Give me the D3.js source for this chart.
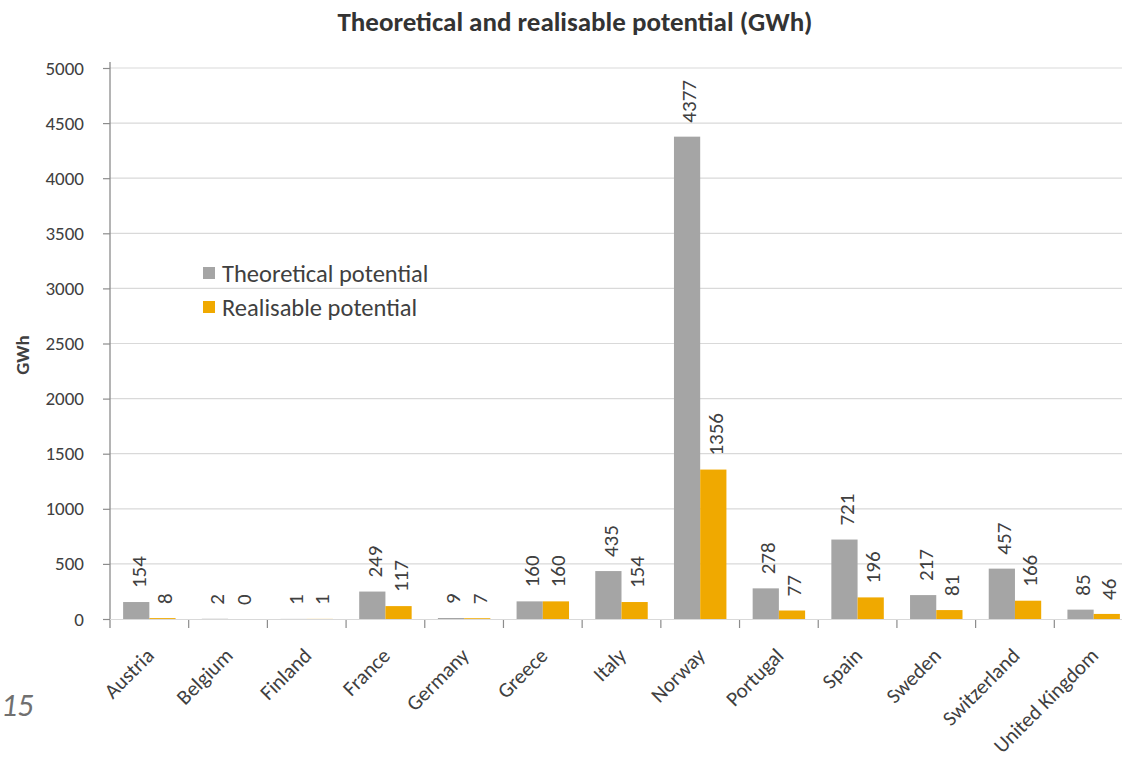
<!DOCTYPE html>
<html>
<head>
<meta charset="utf-8">
<script src="https://cdn.jsdelivr.net/npm/d3@7"></script>
<style>
  html, body { margin: 0; padding: 0; background: #fff; }
  svg { display: block; }
  text { font-family: Carlito, Lato, "Open Sans", sans-serif; }
</style>
</head>
<body>
<svg id="chart" width="1122" height="766"></svg>
<script>
// Hydro potential per country (GWh)
const countries = ["Austria", "Belgium", "Finland", "France", "Germany", "Greece", "Italy",
                   "Norway", "Portugal", "Spain", "Sweden", "Switzerland", "United Kingdom"];
const theoretical = [154, 2, 1, 249, 9, 160, 435, 4377, 278, 721, 217, 457, 85];
const realisable  = [8, 0, 1, 117, 7, 160, 154, 1356, 77, 196, 81, 166, 46];
const seriesNames = ["Theoretical potential", "Realisable potential"];
const yTicks = [0, 500, 1000, 1500, 2000, 2500, 3000, 3500, 4000, 4500, 5000];

const colors = { "Theoretical potential": "#a5a5a5", "Realisable potential": "#f0a900" };
const textColor = "#404040";

const svg = d3.select("#chart");
const plot = { left: 110, right: 1133, top: 68, bottom: 619 };

const rows = countries.map((c, i) => ({
  country: c,
  values: [
    { series: seriesNames[0], value: theoretical[i] },
    { series: seriesNames[1], value: realisable[i] }
  ]
}));

const x0 = d3.scaleBand().domain(countries).range([plot.left, plot.right]).padding(0);
const x1 = d3.scaleBand().domain(seriesNames).range([0, x0.bandwidth()])
  .paddingInner(0).paddingOuter(0.5);
const y = d3.scaleLinear().domain([0, 5000]).range([plot.bottom, plot.top]);

// Title
svg.append("text")
  .attr("x", 575).attr("y", 31)
  .attr("text-anchor", "middle")
  .attr("font-size", 27).attr("font-weight", "bold")
  .attr("fill", "#333")
  .text("Theoretical and realisable potential (GWh)");

// Horizontal gridlines
svg.append("g")
  .selectAll("line")
  .data(yTicks.filter(t => t > 0))
  .join("line")
  .attr("x1", plot.left).attr("x2", plot.right)
  .attr("y1", d => y(d)).attr("y2", d => y(d))
  .attr("stroke", "#d9d9d9").attr("stroke-width", 1.2);

// Y axis
const yAxis = svg.append("g")
  .attr("transform", `translate(${plot.left},0)`)
  .call(d3.axisLeft(y).tickValues(yTicks).tickFormat(d3.format("d"))
    .tickSize(7).tickPadding(19).tickSizeOuter(0));
yAxis.select(".domain").attr("stroke", "#8c8c8c").attr("stroke-width", 1.3)
  .attr("d", `M0,${plot.top - 6}V${plot.bottom + 9}`);
yAxis.selectAll(".tick line").attr("stroke", "#8c8c8c").attr("stroke-width", 1.2);
yAxis.selectAll(".tick text")
  .attr("font-family", "Carlito, Lato, 'Open Sans', sans-serif")
  .attr("font-size", 19).attr("fill", textColor);

// Y axis title
svg.append("text")
  .attr("transform", "translate(29,355) rotate(-90)")
  .attr("text-anchor", "middle")
  .attr("font-size", 19).attr("font-weight", "bold")
  .attr("fill", textColor)
  .text("GWh");

// X axis: baseline and separators between categories
const xAxisG = svg.append("g");
xAxisG.append("line")
  .attr("x1", plot.left).attr("x2", plot.right)
  .attr("y1", plot.bottom + 0.5).attr("y2", plot.bottom + 0.5)
  .attr("stroke", "#d9d9d9").attr("stroke-width", 1);
xAxisG.selectAll("line.sep")
  .data(countries)
  .join("line")
  .attr("class", "sep")
  .attr("x1", d => x0(d) + x0.bandwidth())
  .attr("x2", d => x0(d) + x0.bandwidth())
  .attr("y1", plot.bottom + 1).attr("y2", plot.bottom + 9)
  .attr("stroke", "#8c8c8c").attr("stroke-width", 1.2);

xAxisG.selectAll("text.cat")
  .data(countries)
  .join("text")
  .attr("class", "cat")
  .attr("transform", d => `translate(${x0(d) + x0.bandwidth() / 2 + 6},${plot.bottom + 38}) rotate(-45)`)
  .attr("text-anchor", "end")
  .attr("font-size", 21)
  .attr("fill", textColor)
  .text(d => d);

// Bars
const groups = svg.append("g")
  .selectAll("g")
  .data(rows)
  .join("g")
  .attr("transform", d => `translate(${x0(d.country)},0)`);

groups.selectAll("rect")
  .data(d => d.values)
  .join("rect")
  .attr("x", d => x1(d.series))
  .attr("width", x1.bandwidth())
  .attr("y", d => y(d.value))
  .attr("height", d => y(0) - y(d.value))
  .attr("fill", d => colors[d.series]);

// Value labels, rotated, above each bar
groups.selectAll("text")
  .data(d => d.values)
  .join("text")
  .attr("transform", d => `translate(${x1(d.series) + x1.bandwidth() / 2 + 2},${y(d.value) - 14}) rotate(-90)`)
  .attr("dy", "0.35em")
  .attr("text-anchor", "start")
  .attr("font-size", 21)
  .attr("fill", textColor)
  .text(d => d.value);

// Legend
const legend = svg.append("g")
  .selectAll("g")
  .data(seriesNames)
  .join("g")
  .attr("transform", (d, i) => `translate(203,${267 + i * 34})`);
legend.append("rect")
  .attr("width", 12).attr("height", 12)
  .attr("fill", d => colors[d]);
legend.append("text")
  .attr("x", 19).attr("y", 6).attr("dy", "0.35em")
  .attr("font-size", 24.5)
  .attr("fill", textColor)
  .text(d => d);

// Page number
svg.append("text")
  .attr("x", 1).attr("y", 716)
  .attr("font-family", "Liberation Sans, Arial, sans-serif")
  .attr("font-style", "italic")
  .attr("font-size", 32)
  .attr("fill", "#707070")
  .text("15");
</script>
</body>
</html>
